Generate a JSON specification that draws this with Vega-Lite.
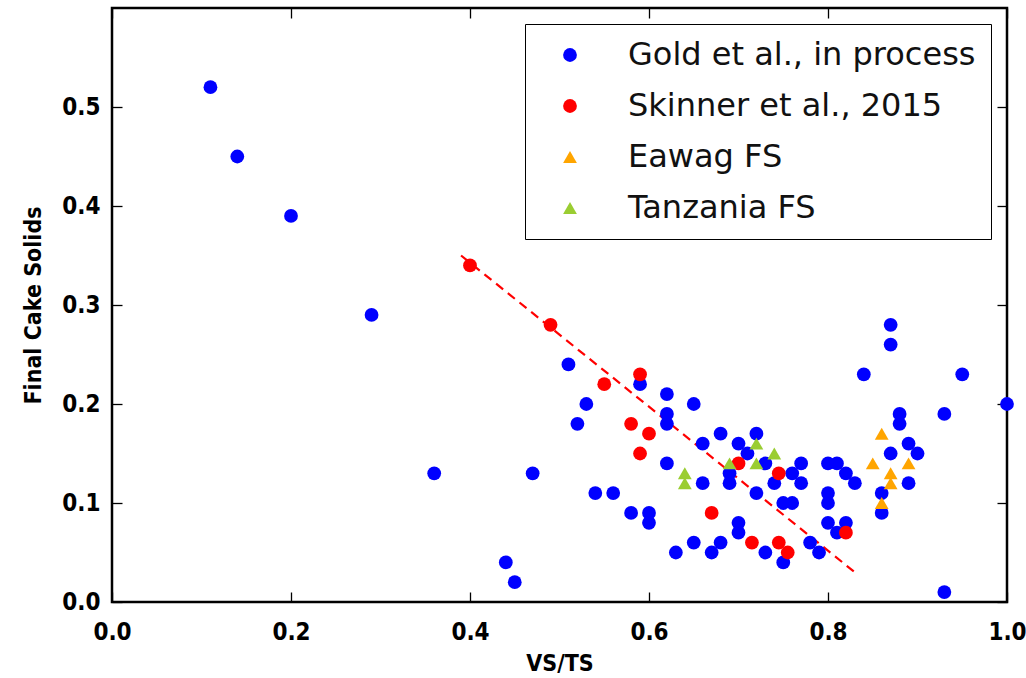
{
  "$schema": "https://vega.github.io/schema/vega-lite/v6.json",
  "autosize": {"type": "none"},
  "padding": {"left": 112, "top": 8, "right": 19, "bottom": 76},
  "width": 895,
  "height": 594,
  "background": "white",
  "config": {
    "view": {"stroke": "black", "strokeWidth": 2.5},
    "axis": {
      "domain": false,
      "grid": false,
      "ticks": true,
      "tickOpacity": 1,
      "zindex": 2,
      "offset": -10,
      "tickColor": "#000000",
      "tickWidth": 1.3,
      "tickSize": 10,
      "labelFlush": false,
      "labelFont": "DejaVu Sans Condensed",
      "labelFontWeight": "bold",
      "labelFontSize": 24,
      "labelColor": "black",
      "titleFont": "DejaVu Sans Condensed",
      "titleFontWeight": "bold",
      "titleFontSize": 23,
      "titleColor": "black"
    }
  },
  "datasets": {
    "pts": [
      {"vsts": 0.11, "solids": 0.52, "series": "Gold et al., in process"},
      {"vsts": 0.14, "solids": 0.45, "series": "Gold et al., in process"},
      {"vsts": 0.20, "solids": 0.39, "series": "Gold et al., in process"},
      {"vsts": 0.29, "solids": 0.29, "series": "Gold et al., in process"},
      {"vsts": 0.36, "solids": 0.13, "series": "Gold et al., in process"},
      {"vsts": 0.44, "solids": 0.04, "series": "Gold et al., in process"},
      {"vsts": 0.45, "solids": 0.02, "series": "Gold et al., in process"},
      {"vsts": 0.47, "solids": 0.13, "series": "Gold et al., in process"},
      {"vsts": 0.51, "solids": 0.24, "series": "Gold et al., in process"},
      {"vsts": 0.53, "solids": 0.20, "series": "Gold et al., in process"},
      {"vsts": 0.52, "solids": 0.18, "series": "Gold et al., in process"},
      {"vsts": 0.54, "solids": 0.11, "series": "Gold et al., in process"},
      {"vsts": 0.56, "solids": 0.11, "series": "Gold et al., in process"},
      {"vsts": 0.58, "solids": 0.09, "series": "Gold et al., in process"},
      {"vsts": 0.60, "solids": 0.09, "series": "Gold et al., in process"},
      {"vsts": 0.60, "solids": 0.08, "series": "Gold et al., in process"},
      {"vsts": 0.59, "solids": 0.22, "series": "Gold et al., in process"},
      {"vsts": 0.62, "solids": 0.21, "series": "Gold et al., in process"},
      {"vsts": 0.62, "solids": 0.19, "series": "Gold et al., in process"},
      {"vsts": 0.62, "solids": 0.18, "series": "Gold et al., in process"},
      {"vsts": 0.62, "solids": 0.14, "series": "Gold et al., in process"},
      {"vsts": 0.65, "solids": 0.20, "series": "Gold et al., in process"},
      {"vsts": 0.63, "solids": 0.05, "series": "Gold et al., in process"},
      {"vsts": 0.65, "solids": 0.06, "series": "Gold et al., in process"},
      {"vsts": 0.66, "solids": 0.16, "series": "Gold et al., in process"},
      {"vsts": 0.66, "solids": 0.12, "series": "Gold et al., in process"},
      {"vsts": 0.67, "solids": 0.05, "series": "Gold et al., in process"},
      {"vsts": 0.68, "solids": 0.17, "series": "Gold et al., in process"},
      {"vsts": 0.68, "solids": 0.06, "series": "Gold et al., in process"},
      {"vsts": 0.69, "solids": 0.13, "series": "Gold et al., in process"},
      {"vsts": 0.69, "solids": 0.12, "series": "Gold et al., in process"},
      {"vsts": 0.70, "solids": 0.16, "series": "Gold et al., in process"},
      {"vsts": 0.71, "solids": 0.15, "series": "Gold et al., in process"},
      {"vsts": 0.72, "solids": 0.17, "series": "Gold et al., in process"},
      {"vsts": 0.70, "solids": 0.08, "series": "Gold et al., in process"},
      {"vsts": 0.70, "solids": 0.07, "series": "Gold et al., in process"},
      {"vsts": 0.73, "solids": 0.14, "series": "Gold et al., in process"},
      {"vsts": 0.74, "solids": 0.12, "series": "Gold et al., in process"},
      {"vsts": 0.72, "solids": 0.11, "series": "Gold et al., in process"},
      {"vsts": 0.73, "solids": 0.05, "series": "Gold et al., in process"},
      {"vsts": 0.75, "solids": 0.10, "series": "Gold et al., in process"},
      {"vsts": 0.76, "solids": 0.10, "series": "Gold et al., in process"},
      {"vsts": 0.75, "solids": 0.04, "series": "Gold et al., in process"},
      {"vsts": 0.77, "solids": 0.14, "series": "Gold et al., in process"},
      {"vsts": 0.76, "solids": 0.13, "series": "Gold et al., in process"},
      {"vsts": 0.77, "solids": 0.12, "series": "Gold et al., in process"},
      {"vsts": 0.78, "solids": 0.06, "series": "Gold et al., in process"},
      {"vsts": 0.79, "solids": 0.05, "series": "Gold et al., in process"},
      {"vsts": 0.80, "solids": 0.14, "series": "Gold et al., in process"},
      {"vsts": 0.81, "solids": 0.14, "series": "Gold et al., in process"},
      {"vsts": 0.82, "solids": 0.13, "series": "Gold et al., in process"},
      {"vsts": 0.83, "solids": 0.12, "series": "Gold et al., in process"},
      {"vsts": 0.80, "solids": 0.11, "series": "Gold et al., in process"},
      {"vsts": 0.80, "solids": 0.10, "series": "Gold et al., in process"},
      {"vsts": 0.80, "solids": 0.08, "series": "Gold et al., in process"},
      {"vsts": 0.82, "solids": 0.08, "series": "Gold et al., in process"},
      {"vsts": 0.81, "solids": 0.07, "series": "Gold et al., in process"},
      {"vsts": 0.84, "solids": 0.23, "series": "Gold et al., in process"},
      {"vsts": 0.87, "solids": 0.28, "series": "Gold et al., in process"},
      {"vsts": 0.87, "solids": 0.26, "series": "Gold et al., in process"},
      {"vsts": 0.88, "solids": 0.19, "series": "Gold et al., in process"},
      {"vsts": 0.88, "solids": 0.18, "series": "Gold et al., in process"},
      {"vsts": 0.89, "solids": 0.16, "series": "Gold et al., in process"},
      {"vsts": 0.90, "solids": 0.15, "series": "Gold et al., in process"},
      {"vsts": 0.87, "solids": 0.15, "series": "Gold et al., in process"},
      {"vsts": 0.89, "solids": 0.12, "series": "Gold et al., in process"},
      {"vsts": 0.86, "solids": 0.11, "series": "Gold et al., in process"},
      {"vsts": 0.86, "solids": 0.09, "series": "Gold et al., in process"},
      {"vsts": 0.93, "solids": 0.19, "series": "Gold et al., in process"},
      {"vsts": 0.95, "solids": 0.23, "series": "Gold et al., in process"},
      {"vsts": 1.00, "solids": 0.20, "series": "Gold et al., in process"},
      {"vsts": 0.93, "solids": 0.01, "series": "Gold et al., in process"},
      {"vsts": 0.40, "solids": 0.34, "series": "Skinner et al., 2015"},
      {"vsts": 0.49, "solids": 0.28, "series": "Skinner et al., 2015"},
      {"vsts": 0.55, "solids": 0.22, "series": "Skinner et al., 2015"},
      {"vsts": 0.59, "solids": 0.23, "series": "Skinner et al., 2015"},
      {"vsts": 0.58, "solids": 0.18, "series": "Skinner et al., 2015"},
      {"vsts": 0.60, "solids": 0.17, "series": "Skinner et al., 2015"},
      {"vsts": 0.59, "solids": 0.15, "series": "Skinner et al., 2015"},
      {"vsts": 0.70, "solids": 0.14, "series": "Skinner et al., 2015"},
      {"vsts": 0.67, "solids": 0.09, "series": "Skinner et al., 2015"},
      {"vsts": 0.745, "solids": 0.13, "series": "Skinner et al., 2015"},
      {"vsts": 0.715, "solids": 0.06, "series": "Skinner et al., 2015"},
      {"vsts": 0.745, "solids": 0.06, "series": "Skinner et al., 2015"},
      {"vsts": 0.755, "solids": 0.05, "series": "Skinner et al., 2015"},
      {"vsts": 0.82, "solids": 0.07, "series": "Skinner et al., 2015"},
      {"vsts": 0.86, "solids": 0.17, "series": "Eawag FS"},
      {"vsts": 0.85, "solids": 0.14, "series": "Eawag FS"},
      {"vsts": 0.87, "solids": 0.13, "series": "Eawag FS"},
      {"vsts": 0.87, "solids": 0.12, "series": "Eawag FS"},
      {"vsts": 0.89, "solids": 0.14, "series": "Eawag FS"},
      {"vsts": 0.86, "solids": 0.10, "series": "Eawag FS"},
      {"vsts": 0.64, "solids": 0.13, "series": "Tanzania FS"},
      {"vsts": 0.64, "solids": 0.12, "series": "Tanzania FS"},
      {"vsts": 0.69, "solids": 0.14, "series": "Tanzania FS"},
      {"vsts": 0.72, "solids": 0.16, "series": "Tanzania FS"},
      {"vsts": 0.72, "solids": 0.14, "series": "Tanzania FS"},
      {"vsts": 0.74, "solids": 0.15, "series": "Tanzania FS"}
    ],
    "fit": [
      {"vsts": 0.39, "solids": 0.35},
      {"vsts": 0.83, "solids": 0.03}
    ]
  },
  "resolve": {"axis": {"x": "independent", "y": "independent"}},
  "layer": [
    {
      "data": {"name": "fit"},
      "mark": {"type": "line", "color": "#ff0000", "strokeWidth": 2.2, "strokeDash": [9, 6]},
      "encoding": {
        "x": {"field": "vsts", "type": "quantitative", "scale": {"domain": [0, 1], "nice": false, "zero": false},
              "axis": {"orient": "top", "labels": false, "title": null, "ticks": true, "values": [0, 0.2, 0.4, 0.6, 0.8, 1.0]}},
        "y": {"field": "solids", "type": "quantitative", "scale": {"domain": [0, 0.6], "nice": false, "zero": false},
              "axis": {"orient": "right", "labels": false, "title": null, "ticks": true, "values": [0, 0.1, 0.2, 0.3, 0.4, 0.5]}}
      }
    },
    {
      "data": {"name": "pts"},
      "mark": {"type": "point", "filled": true, "opacity": 1, "strokeWidth": 0},
      "encoding": {
        "x": {"field": "vsts", "type": "quantitative",
              "axis": {"orient": "bottom", "title": "VS/TS", "ticks": true, "values": [0, 0.2, 0.4, 0.6, 0.8, 1.0], "format": ".1f", "labelPadding": 18, "titlePadding": 8}},
        "y": {"field": "solids", "type": "quantitative",
              "axis": {"orient": "left", "title": "Final Cake Solids", "ticks": true, "values": [0, 0.1, 0.2, 0.3, 0.4, 0.5], "format": ".1f", "labelPadding": 12, "titlePadding": 16}},
        "color": {"field": "series", "type": "nominal",
                  "scale": {"domain": ["Gold et al., in process", "Skinner et al., 2015", "Eawag FS", "Tanzania FS"],
                            "range": ["#0000ff", "#ff0000", "#ffa500", "#9acd32"]},
                  "legend": {"title": null, "orient": "top-right", "offset": 16, "strokeColor": "black",
                             "fillColor": "white", "padding": 15, "symbolOffset": 14, "labelOffset": 42,
                             "labelFont": "DejaVu Sans", "labelFontSize": 32, "labelColor": "#111", "rowPadding": 19,
                             "symbolSize": 150, "symbolStrokeWidth": 0, "labelLimit": 600,
                             "encode": {"legend": {"update": {"strokeWidth": {"value": 2}}}}}},
        "shape": {"field": "series", "type": "nominal",
                  "scale": {"domain": ["Gold et al., in process", "Skinner et al., 2015", "Eawag FS", "Tanzania FS"],
                            "range": ["circle", "circle", "triangle-up", "triangle-up"]}},
        "size": {"field": "series", "type": "nominal", "legend": null,
                 "scale": {"domain": ["Gold et al., in process", "Skinner et al., 2015", "Eawag FS", "Tanzania FS"],
                           "range": [190, 190, 270, 270]}}
      }
    }
  ]
}
